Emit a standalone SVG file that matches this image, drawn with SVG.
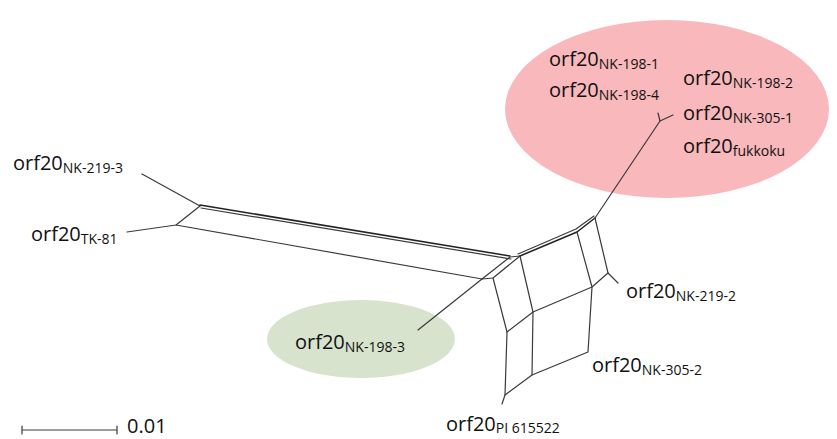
<svg xmlns="http://www.w3.org/2000/svg" width="837" height="439" viewBox="0 0 837 439">
<style>
.lbl{font-family:"Open Sans","Liberation Sans",sans-serif;font-size:20px;fill:#111}
.sub{font-size:14px}
.e{fill:none;stroke:#3a3a3a;stroke-width:1.2;stroke-linecap:round;stroke-linejoin:round}
.d{stroke:#222;stroke-width:1.5}
</style>
<rect width="837" height="439" fill="#ffffff"/>
<g id="groups">
<ellipse id="cluster-pink" cx="667" cy="109" rx="162" ry="89" fill="#f8b8bc"/>
<ellipse id="cluster-green" cx="361" cy="339" rx="94" ry="39" fill="#d7e3cd"/>
</g>
<g id="connectors">
<path class="e" d="M142,174 L200,206"/>
<path class="e" d="M127,232 L176,225 L200,206"/>
<path class="e d" d="M200,205 L510,256"/>
<path class="e" d="M201,208 L511,259"/>
<path class="e" d="M176,225 L482,279"/>
<path class="e" d="M418,330 L482,279 L510,257 L520,256"/>
<path class="e" d="M482,279 L493,278 L520,256"/>
<path class="e d" d="M520,256 L577,232 L595,218"/>
<path class="e" d="M518,254 L576,229 L594,216"/>
<path class="e" d="M493,278 L507,332 L505,395 L502,404"/>
<path class="e" d="M520,256 L533,312 L532,375"/>
<path class="e" d="M507,332 L533,312 L592,287 L608,273 L618,283"/>
<path class="e" d="M505,395 L532,375 L588,352 L592,287 L577,232"/>
<path class="e" d="M595,218 L608,273"/>
<path class="e" d="M595,218 L660,121" stroke-width="1.6"/>
<path class="e" d="M658,113 L660,121 L673,115"/>
</g>
<g id="NK-219-3"><text class="lbl" x="13" y="170">orf20<tspan class="sub" dy="3">NK-219-3</tspan></text></g>
<g id="TK-81"><text class="lbl" x="31" y="241">orf20<tspan class="sub" dy="3">TK-81</tspan></text></g>
<g id="NK-198-1"><text class="lbl" x="549" y="66">orf20<tspan class="sub" dy="3">NK-198-1</tspan></text></g>
<g id="NK-198-4"><text class="lbl" x="549" y="97">orf20<tspan class="sub" dy="3">NK-198-4</tspan></text></g>
<g id="NK-198-2"><text class="lbl" x="683" y="85">orf20<tspan class="sub" dy="3">NK-198-2</tspan></text></g>
<g id="NK-305-1"><text class="lbl" x="683" y="120">orf20<tspan class="sub" dy="3">NK-305-1</tspan></text></g>
<g id="fukkoku"><text class="lbl" x="683" y="153">orf20<tspan class="sub" dy="3">fukkoku</tspan></text></g>
<g id="NK-219-2"><text class="lbl" x="626" y="298">orf20<tspan class="sub" dy="3">NK-219-2</tspan></text></g>
<g id="NK-198-3"><text class="lbl" x="295" y="349">orf20<tspan class="sub" dy="3">NK-198-3</tspan></text></g>
<g id="NK-305-2"><text class="lbl" x="592" y="372">orf20<tspan class="sub" dy="3">NK-305-2</tspan></text></g>
<g id="PI-615522"><text class="lbl" x="446" y="431">orf20<tspan class="sub" dy="2">PI 615522</tspan></text></g>
<g id="scale">
<path class="e" d="M22,430 L117,430 M22,426 L22,434 M117,426 L117,434" stroke="#555"/>
<text class="lbl" x="127" y="433">0.01</text>
</g>
</svg>
